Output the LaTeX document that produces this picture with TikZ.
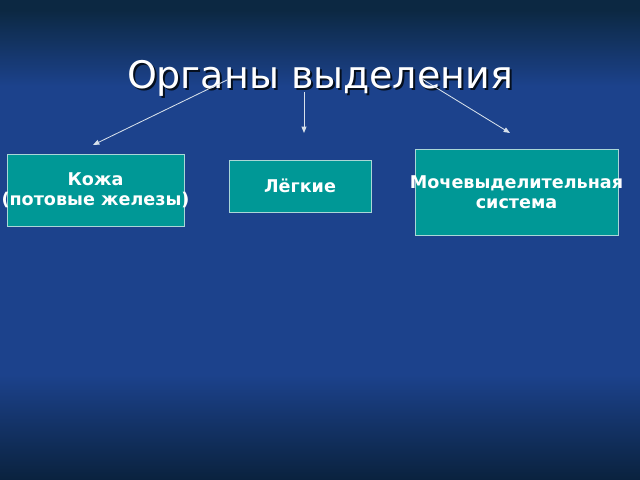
\documentclass[tikz,border=0pt]{standalone}
\usepackage{fontspec}
\setmainfont{DejaVu Sans}
\usetikzlibrary{arrows.meta,positioning}
\definecolor{bgtop}{RGB}{12, 40, 66}
\definecolor{bgmid}{RGB}{28, 66, 140}
\definecolor{bgbot}{RGB}{10, 34, 62}
\definecolor{teal}{RGB}{0, 152, 150}
\definecolor{rim}{RGB}{170, 215, 215}
\pgfdeclareverticalshading{slidebg}{100bp}{color(0bp)=(bgbot); color(25bp)=(bgbot); color(36bp)=(bgmid); color(66bp)=(bgmid); color(74bp)=(bgtop); color(100bp)=(bgtop)}

\begin{document}
\begin{tikzpicture}[x=0.025cm, y=-0.025cm,
    organ/.style={draw=rim, line width=0.5pt, fill=teal, inner sep=0pt},
    organtext/.style={white, font=\fontsize{12.5}{14.5}\selectfont\bfseries, align=center, inner sep=0pt},
    link/.style={-{Triangle[length=4.5pt, width=3.5pt]}, draw={rgb,255:red,215;green,225;blue,235}, line width=0.6pt}]
            % Background
            \shade[shading=slidebg] (0,0) rectangle (640,480);
            \useasboundingbox (0,0) rectangle (640,480);

            % Title
            \node[text={rgb,255:red,5;green,15;blue,30}, font=\fontsize{27}{32}\selectfont] (titleshadow) at (322,80) {Органы выделения};
            \node[white, font=\fontsize{27}{32}\selectfont] (title) at (320,78) {Органы выделения};

            % Boxes
            \node[organ, minimum width=4.425cm, minimum height=1.8cm,
                label={[organtext]center:Кожа\\(потовые железы)}] (skin) at (95.5,190) {};
            \node[organ, minimum width=3.55cm, minimum height=1.3cm,
                label={[organtext]center:Лёгкие}] (lungs) at (300,186) {};
            \node[organ, minimum width=5.075cm, minimum height=2.15cm,
                label={[organtext]center:Мочевыделительная\\система}] (urinary) at (516.5,192.5) {};

            % Arrows
            \coordinate (fromskin) at (227,80);
            \coordinate (fromlungs) at (304,92);
            \coordinate (fromurinary) at (422,79);
            \coordinate (toskin) at (93,145);
            \coordinate (tolungs) at (304,133);
            \coordinate (tourinary) at (510,133);
            \draw[link] (fromskin) -- (toskin);
            \draw[link] (fromlungs) -- (tolungs);
            \draw[link] (fromurinary) -- (tourinary);
        \end{tikzpicture}
\end{document}
